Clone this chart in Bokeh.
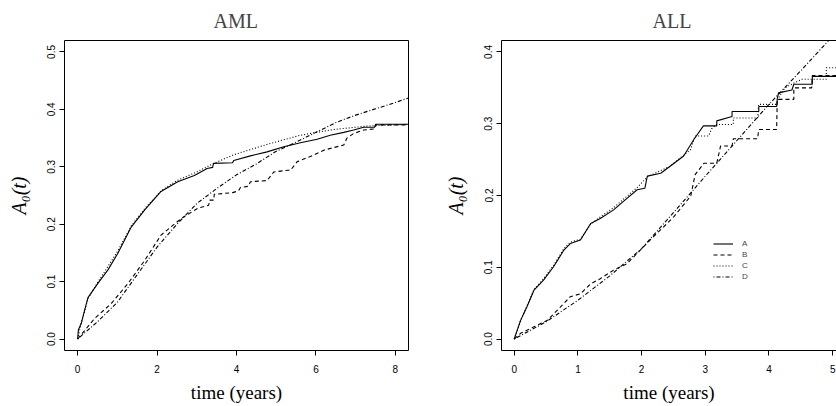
from bokeh.plotting import figure
from bokeh.layouts import row
from bokeh.models import (FixedTicker, PrintfTickFormatter, LinearAxis, Legend,
                          LegendItem, Range1d)
from bokeh.embed import file_html
from bokeh.resources import INLINE

# ---------------- data ----------------
panel_titles = ["AML", "ALL"]
series_names = ["A", "B", "C", "D"]
aml_xticks = [0, 2, 4, 6, 8]
aml_yticks = [0.0, 0.1, 0.2, 0.3, 0.4, 0.5]
all_xticks = [0, 1, 2, 3, 4, 5]
all_yticks = [0.0, 0.1, 0.2, 0.3, 0.4]

# AML
aml_A_time = [0, 0.02, 0.09, 0.26, 0.51, 0.76, 1.01, 1.35, 1.69, 2.10, 2.52, 2.94, 3.26, 3.40,
              3.42, 3.90, 3.93, 4.35, 4.77, 5.19, 5.61, 6.03, 6.36, 6.70, 6.95, 7.20, 7.48, 7.50, 8.33]
aml_A_haz = [0, 0.016, 0.027, 0.072, 0.097, 0.120, 0.149, 0.195, 0.225, 0.257, 0.274, 0.285, 0.297, 0.299,
             0.306, 0.307, 0.311, 0.319, 0.326, 0.335, 0.342, 0.348, 0.355, 0.360, 0.364, 0.369, 0.369, 0.374, 0.374]
aml_B_time = [0, 0.18, 0.43, 0.85, 1.27, 1.69, 2.10, 2.61, 3.03, 3.30, 3.32, 3.43, 3.44, 3.90, 4.05, 4.10,
              4.30, 4.35, 4.77, 4.94, 5.30, 5.36, 5.53, 5.86, 6.20, 6.70, 6.78, 6.95, 7.20, 7.48, 7.50, 8.33]
aml_B_haz = [0, 0.015, 0.036, 0.062, 0.097, 0.137, 0.181, 0.210, 0.228, 0.233, 0.242, 0.242, 0.252, 0.255, 0.258, 0.264,
             0.266, 0.274, 0.276, 0.291, 0.294, 0.294, 0.309, 0.318, 0.329, 0.338, 0.350, 0.358, 0.364, 0.366, 0.373, 0.373]
aml_C_time = [0, 0.1, 0.26, 0.5, 1.0, 1.35, 1.7, 2.1, 2.5, 3.0, 3.43, 3.93, 4.77, 5.61, 6.45, 7.29, 8.33]
aml_C_haz = [0, 0.030, 0.070, 0.098, 0.152, 0.197, 0.228, 0.258, 0.276, 0.291, 0.306, 0.321, 0.339, 0.355, 0.365, 0.371, 0.374]
aml_D_time = [0, 0.5, 1.0, 1.5, 2.0, 2.5, 3.0, 3.5, 4.0, 4.5, 5.0, 5.5, 6.0, 6.5, 7.0, 7.5, 8.0, 8.33]
aml_D_haz = [0, 0.030, 0.064, 0.112, 0.160, 0.200, 0.236, 0.262, 0.286, 0.305, 0.327, 0.343, 0.360, 0.377, 0.390, 0.401, 0.412, 0.420]

# ALL
all_A_time = [0, 0.1, 0.2, 0.31, 0.46, 0.62, 0.78, 0.88, 1.04, 1.2, 1.35, 1.56, 1.77, 1.93, 2.05, 2.09, 2.3,
              2.51, 2.66, 2.82, 2.97, 3.18, 3.18, 3.42, 3.42, 3.84, 3.84, 4.12, 4.13, 4.15, 4.36, 4.39, 4.68, 4.68, 5.2]
all_A_haz = [0, 0.026, 0.045, 0.068, 0.082, 0.101, 0.124, 0.133, 0.138, 0.161, 0.168, 0.180, 0.196, 0.208, 0.210, 0.227, 0.231,
             0.245, 0.255, 0.278, 0.297, 0.297, 0.304, 0.310, 0.317, 0.317, 0.324, 0.324, 0.335, 0.343, 0.347, 0.355, 0.355, 0.366, 0.366]
all_B_time = [0, 0.1, 0.31, 0.52, 0.73, 0.88, 1.04, 1.2, 1.35, 1.56, 1.77, 1.98, 2.19, 2.4, 2.51, 2.77, 2.84, 2.98,
              3.18, 3.21, 3.24, 3.42, 3.44, 3.82, 3.84, 4.12, 4.13, 4.39, 4.39, 4.67, 4.68, 5.2]
all_B_haz = [0, 0.008, 0.017, 0.026, 0.045, 0.059, 0.063, 0.077, 0.084, 0.096, 0.105, 0.124, 0.143, 0.161, 0.171, 0.199, 0.229, 0.245,
             0.245, 0.257, 0.269, 0.269, 0.279, 0.279, 0.292, 0.292, 0.334, 0.334, 0.350, 0.350, 0.367, 0.367]
all_C_time = [0, 0.1, 0.2, 0.31, 0.46, 0.62, 0.78, 0.88, 1.04, 1.2, 1.35, 1.56, 1.77, 1.93, 2.09, 2.45, 2.77, 2.84,
              3.05, 3.10, 3.18, 3.44, 3.44, 3.82, 3.84, 4.12, 4.15, 4.25, 4.40, 4.52, 4.90, 4.90, 5.2]
all_C_haz = [0, 0.026, 0.046, 0.069, 0.084, 0.103, 0.126, 0.135, 0.139, 0.160, 0.170, 0.183, 0.199, 0.211, 0.226, 0.241, 0.264, 0.283,
             0.283, 0.293, 0.299, 0.299, 0.308, 0.308, 0.327, 0.327, 0.336, 0.350, 0.357, 0.362, 0.362, 0.378, 0.378]
all_D_time = [0, 0.5, 1.0, 1.5, 2.0, 2.5, 3.0, 3.5, 4.0, 4.5, 5.0, 5.2]
all_D_haz = [0, 0.024, 0.054, 0.088, 0.126, 0.176, 0.227, 0.277, 0.327, 0.374, 0.422, 0.440]

# ---------------- styling ----------------
SERIF = "Liberation Serif"
SANS = "Liberation Sans"
DASH = {"A": "solid", "B": "4 3", "C": "1 2", "D": "1 2 4 2"}


def edge_axis(p, side):
    ax = LinearAxis(ticker=FixedTicker(ticks=[]), major_tick_out=0, major_tick_in=0,
                    minor_tick_out=0, minor_tick_in=0, axis_line_color="black",
                    axis_line_width=1, major_label_text_font_size="0px")
    p.add_layout(ax, side)


def make_panel(title, curves, xr, yr, xticks, yticks, fw, bl, br, right_edge,
               title_offset=0, legend=False):
    p = figure(frame_width=fw, frame_height=310, x_range=Range1d(*xr), y_range=Range1d(*yr),
               output_backend="svg", toolbar_location=None,
               min_border_left=bl, min_border_right=br, min_border_top=40, min_border_bottom=53,
               x_axis_label="time (years)", y_axis_label="A\u2080(t)")
    p.outline_line_color = None
    p.grid.visible = False
    p.background_fill_color = "white"

    p.title.text = title
    p.title.text_font = SERIF
    p.title.text_font_size = "20px"
    p.title.text_font_style = "normal"
    p.title.align = "left"
    p.title.vertical_align = "top"
    p.title.standoff = 14
    p.title.offset = title_offset

    for ax in (p.xaxis[0], p.yaxis[0]):
        ax.axis_line_color = "black"
        ax.axis_line_width = 1
        ax.major_tick_out = 5
        ax.major_tick_in = 0
        ax.minor_tick_out = 0
        ax.minor_tick_in = 0
        ax.major_tick_line_color = "black"
        ax.major_label_text_font = SANS
        ax.major_label_text_font_size = "10px"
        ax.major_label_text_color = "black"
        ax.axis_label_text_font = SERIF
        ax.axis_label_text_font_size = "19px"
        ax.axis_label_text_font_style = "normal"
        ax.axis_label_text_color = "black"

    p.xaxis[0].ticker = FixedTicker(ticks=xticks)
    p.yaxis[0].ticker = FixedTicker(ticks=yticks)
    p.yaxis[0].formatter = PrintfTickFormatter(format="%.1f")
    p.yaxis[0].major_label_orientation = "vertical"
    p.xaxis[0].major_label_standoff = 9
    p.xaxis[0].axis_label_standoff = 6
    p.yaxis[0].major_label_standoff = 4
    p.yaxis[0].axis_label_standoff = 15
    p.yaxis[0].axis_label_text_font_style = "italic"
    p.yaxis[0].axis_label_text_font_size = "20px"

    edge_axis(p, "above")
    if right_edge:
        edge_axis(p, "right")

    renderers = {}
    for name in series_names:
        t, h = curves[name]
        renderers[name] = p.line(t, h, line_color="black", line_width=1.1, line_dash=DASH[name])

    if legend:
        items = [LegendItem(label=n, renderers=[renderers[n]]) for n in series_names]
        lg = Legend(items=items, location=(212, 68), glyph_width=20, glyph_height=11,
                    label_height=11, label_standoff=9, spacing=0, padding=0, margin=0,
                    border_line_color=None, background_fill_alpha=0,
                    label_text_font=SANS, label_text_font_size="8px")
        p.add_layout(lg, "center")
    return p


aml_curves = {"A": (aml_A_time, aml_A_haz), "B": (aml_B_time, aml_B_haz),
              "C": (aml_C_time, aml_C_haz), "D": (aml_D_time, aml_D_haz)}
all_curves = {"A": (all_A_time, all_A_haz), "B": (all_B_time, all_B_haz),
              "C": (all_C_time, all_C_haz), "D": (all_D_time, all_D_haz)}

p1 = make_panel(panel_titles[0], aml_curves, (-0.33, 8.33), (-0.02, 0.52), aml_xticks, aml_yticks,
                fw=344, bl=64, br=32, right_edge=True, title_offset=149)
p2 = make_panel(panel_titles[1], all_curves, (-0.2, 5.06), (-0.016, 0.416), all_xticks, all_yticks,
                fw=335, bl=61, br=0, right_edge=False, title_offset=151, legend=True)

layout = row(p1, p2, spacing=0)
open("out.html", "w").write(file_html(layout, INLINE))
